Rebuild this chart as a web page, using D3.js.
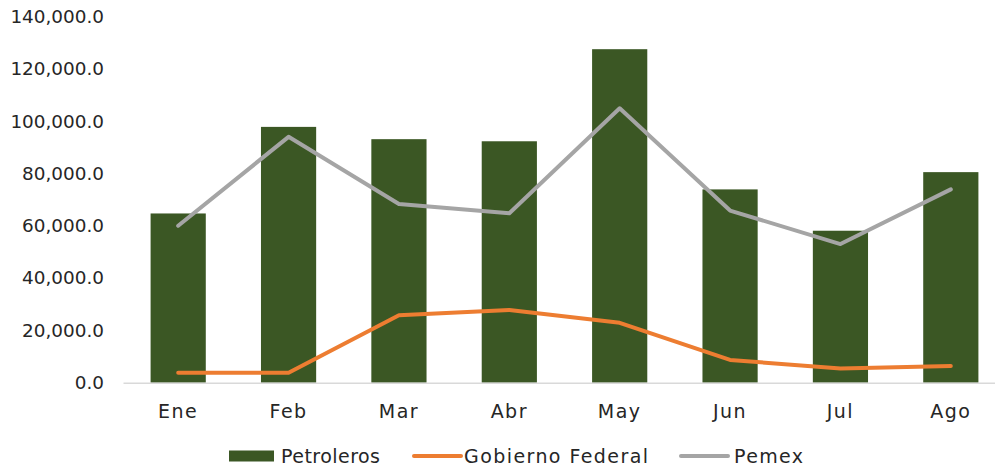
<!DOCTYPE html>
<html><head><meta charset="utf-8">
<script src="https://cdn.jsdelivr.net/npm/d3@7"></script>
<style>body{margin:0;background:#fff}svg{display:block}text{font-family:"DejaVu Sans",sans-serif;fill:#262626}</style>
</head><body>
<script>
const categories = ["Ene","Feb","Mar","Abr","May","Jun","Jul","Ago"];
const petroleros = [64700, 97800, 93100, 92300, 127500, 73900, 58100, 80500];
const gobiernoFederal = [3800, 3800, 25800, 27800, 22900, 8700, 5400, 6400];
const pemex = [60000, 94000, 68300, 64800, 104900, 65800, 53000, 73900];
const yTicks = [0, 20000, 40000, 60000, 80000, 100000, 120000, 140000];
const seriesNames = ["Petroleros", "Gobierno Federal", "Pemex"];
const colors = {bar:"#3B5724", gob:"#ED7D31", pemex:"#A5A5A5"};

const W = 995, H = 467;
const svg = d3.select("body").append("svg").attr("width", W).attr("height", H);
const x = d3.scaleBand().domain(categories).range([123, 1006]).paddingInner(0.5).paddingOuter(0.25);
const y = d3.scaleLinear().domain([0, 140000]).range([382.7, 16.5]);
const fmt = d3.format(",.1f");

// y labels
const yAxis = svg.append("g").attr("transform", "translate(104,0)")
  .call(d3.axisLeft(y).tickValues(yTicks).tickFormat(fmt).tickSize(0).tickPadding(0));
yAxis.select(".domain").remove();
yAxis.selectAll("text").style("font-size","18.4px").style("font-family","DejaVu Sans").attr("fill","#262626");

// bars
svg.append("g").selectAll("rect").data(categories).join("rect")
  .attr("x", d => x(d)).attr("width", x.bandwidth())
  .attr("y", (d,i) => y(petroleros[i])).attr("height", (d,i) => y(0) - y(petroleros[i]))
  .attr("fill", colors.bar);

// x axis
const xAxis = svg.append("g").attr("transform", `translate(0,${y(0)})`)
  .call(d3.axisBottom(x).tickSize(0).tickPadding(22));
xAxis.select(".domain").attr("stroke", "#D9D9D9").attr("stroke-width", 1.5);
xAxis.selectAll("text").style("font-size","19px").style("font-family","DejaVu Sans")
  .style("letter-spacing","1.5px").attr("fill","#262626");

const cx = d => x(d) + x.bandwidth()/2;
const line = vals => d3.line().x((d,i) => cx(categories[i])).y(d => y(d))(vals);
svg.append("path").attr("d", line(gobiernoFederal)).attr("fill","none")
  .attr("stroke", colors.gob).attr("stroke-width", 4).attr("stroke-linecap","round").attr("stroke-linejoin","round");
svg.append("path").attr("d", line(pemex)).attr("fill","none")
  .attr("stroke", colors.pemex).attr("stroke-width", 4).attr("stroke-linecap","round").attr("stroke-linejoin","round");

// legend
const leg = svg.append("g");
const ly = 456;
leg.append("rect").attr("x", 229).attr("y", ly-5.5).attr("width", 45).attr("height", 11).attr("fill", colors.bar);
leg.append("text").attr("x", 281).attr("y", ly).attr("dy","0.36em").style("font-size","19px")
  .attr("textLength", 99).attr("lengthAdjust","spacing").text(seriesNames[0]);
leg.append("line").attr("x1", 414).attr("x2", 461).attr("y1", ly).attr("y2", ly)
  .attr("stroke", colors.gob).attr("stroke-width", 4).attr("stroke-linecap","round");
leg.append("text").attr("x", 464).attr("y", ly).attr("dy","0.36em").style("font-size","19px")
  .attr("textLength", 184).attr("lengthAdjust","spacing").text(seriesNames[1]);
leg.append("line").attr("x1", 681).attr("x2", 728).attr("y1", ly).attr("y2", ly)
  .attr("stroke", colors.pemex).attr("stroke-width", 4).attr("stroke-linecap","round");
leg.append("text").attr("x", 734).attr("y", ly).attr("dy","0.36em").style("font-size","19px")
  .attr("textLength", 69).attr("lengthAdjust","spacing").text(seriesNames[2]);
</script>
</body></html>
